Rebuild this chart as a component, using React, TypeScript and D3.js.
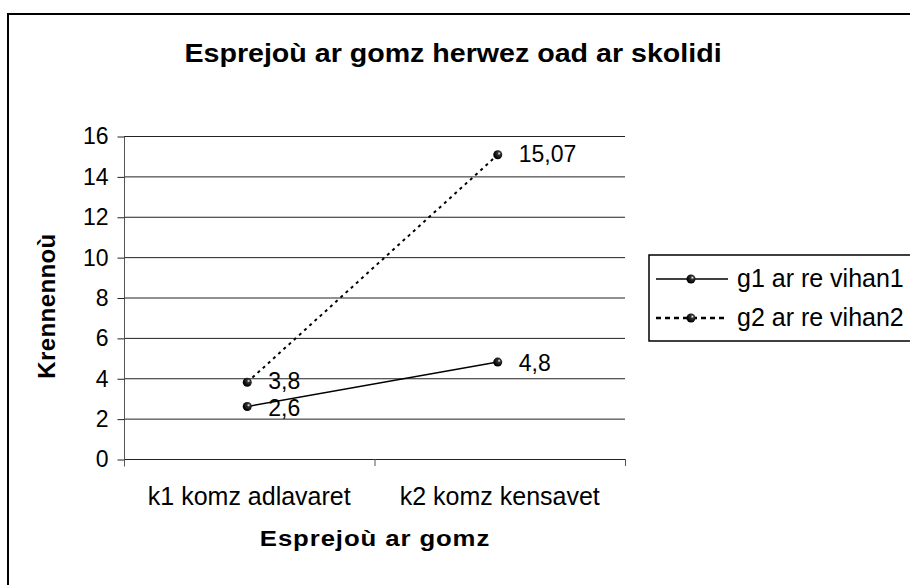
import { useEffect, useRef } from "react"
import * as d3 from "d3"

const categories = ["k1 komz adlavaret", "k2 komz kensavet"]
const seriesNames = ["g1 ar re vihan1", "g2 ar re vihan2"]
const g1Values = [2.6, 4.8]
const g2Values = [3.8, 15.07]
const g1Labels = ["2,6", "4,8"]
const g2Labels = ["3,8", "15,07"]
const yTicks = [0, 2, 4, 6, 8, 10, 12, 14, 16]

export default function App() {
  const ref = useRef<SVGSVGElement>(null)

  useEffect(() => {
    const svg = d3.select(ref.current)
    svg.selectAll("*").remove()

    const left = 124
    const right = 625
    const top = 136
    const bottom = 459
    const font = "'Liberation Sans', Arial, sans-serif"

    const x = d3.scaleBand().domain(categories).range([left, right])
    const y = d3.scaleLinear().domain([0, 16]).range([bottom, top])

    const defs = svg.append("defs")
    const grad = defs
      .append("radialGradient")
      .attr("id", "ball")
      .attr("cx", "65%")
      .attr("cy", "35%")
      .attr("r", "60%")
    grad.append("stop").attr("offset", "0%").attr("stop-color", "#ffffff")
    grad.append("stop").attr("offset", "30%").attr("stop-color", "#333")
    grad.append("stop").attr("offset", "100%").attr("stop-color", "#000")

    // outer frame
    svg
      .append("rect")
      .attr("x", 8)
      .attr("y", 14)
      .attr("width", 940)
      .attr("height", 620)
      .attr("fill", "#fff")
      .attr("stroke", "#000")
      .attr("stroke-width", 2)

    // title (slightly widened like the original rendering)
    svg
      .append("text")
      .attr("transform", "translate(453,62) scale(1.1,1)")
      .attr("text-anchor", "middle")
      .attr("font-family", font)
      .attr("font-weight", "bold")
      .attr("font-size", 26)
      .text("Esprejoù ar gomz herwez oad ar skolidi")

    // gridlines
    svg
      .append("g")
      .selectAll("line")
      .data(yTicks.filter((t) => t > 0))
      .join("line")
      .attr("x1", left)
      .attr("x2", right)
      .attr("y1", (d) => y(d) + 0.5)
      .attr("y2", (d) => y(d) + 0.5)
      .attr("stroke", "#222")
      .attr("stroke-width", 1)

    // y axis
    const yAxis = svg
      .append("g")
      .attr("transform", `translate(${left + 0.5},0.5)`)
      .call(d3.axisLeft(y).tickValues(yTicks).tickSize(7).tickPadding(9).tickFormat(d3.format("d")))
    yAxis.select(".domain").attr("stroke", "#555").attr("d", `M0,${top}V${bottom + 7}`)
    yAxis.selectAll(".tick line").attr("stroke", "#222")
    yAxis
      .selectAll(".tick text")
      .attr("font-family", font)
      .attr("font-size", 23)
      .attr("fill", "#000")

    // x axis
    svg
      .append("line")
      .attr("x1", left)
      .attr("x2", right)
      .attr("y1", bottom + 0.5)
      .attr("y2", bottom + 0.5)
      .attr("stroke", "#222")
    const bounds = [left, left + x.bandwidth(), right]
    svg
      .append("g")
      .selectAll("line")
      .data(bounds)
      .join("line")
      .attr("x1", (d) => d + 0.5)
      .attr("x2", (d) => d + 0.5)
      .attr("y1", bottom)
      .attr("y2", bottom + 7)
      .attr("stroke", "#555")
    svg
      .append("g")
      .selectAll("text")
      .data(categories)
      .join("text")
      .attr("x", (d) => (x(d) || 0) + x.bandwidth() / 2)
      .attr("y", 505)
      .attr("text-anchor", "middle")
      .attr("font-family", font)
      .attr("font-size", 25)
      .text((d) => d)

    // axis titles
    svg
      .append("text")
      .attr("transform", "translate(375,546) scale(1.12,1)")
      .attr("text-anchor", "middle")
      .attr("font-family", font)
      .attr("font-weight", "bold")
      .attr("font-size", 23)
      .attr("letter-spacing", 0.8)
      .text("Esprejoù ar gomz")
    svg
      .append("text")
      .attr("transform", "translate(55,306) rotate(-90)")
      .attr("text-anchor", "middle")
      .attr("font-family", font)
      .attr("font-weight", "bold")
      .attr("font-size", 24)
      .attr("letter-spacing", 0.4)
      .text("Krennennoù")

    const cx = (c: string) => (x(c) || 0) + x.bandwidth() / 2 - 2
    const series = [
      { values: g1Values, labels: g1Labels, dash: null, dy: 9 },
      { values: g2Values, labels: g2Labels, dash: "3,4", dy: 7 },
    ]

    series.forEach((s) => {
      const line = d3
        .line<number>()
        .x((_, i) => cx(categories[i]))
        .y((d) => y(d))
      svg
        .append("path")
        .attr("d", line(s.values))
        .attr("fill", "none")
        .attr("stroke", "#000")
        .attr("stroke-width", s.dash ? 2 : 1.5)
        .attr("stroke-dasharray", s.dash)
      svg
        .append("g")
        .selectAll("circle")
        .data(s.values)
        .join("circle")
        .attr("cx", (_, i) => cx(categories[i]))
        .attr("cy", (d) => y(d))
        .attr("r", 4.5)
        .attr("fill", "url(#ball)")
      svg
        .append("g")
        .selectAll("text")
        .data(s.values)
        .join("text")
        .attr("x", (_, i) => cx(categories[i]) + 21)
        .attr("y", (d) => y(d) + s.dy)
        .attr("font-family", font)
        .attr("font-size", 23)
        .text((_, i) => s.labels[i])
    })

    // legend
    svg
      .append("rect")
      .attr("x", 649)
      .attr("y", 255)
      .attr("width", 300)
      .attr("height", 86)
      .attr("fill", "#fff")
      .attr("stroke", "#000")
      .attr("stroke-width", 1.5)
    seriesNames.forEach((name, i) => {
      const ly = 279 + i * 39
      svg
        .append("line")
        .attr("x1", 656)
        .attr("x2", 728)
        .attr("y1", ly)
        .attr("y2", ly)
        .attr("stroke", "#000")
        .attr("stroke-width", i ? 2.5 : 1.5)
        .attr("stroke-dasharray", i ? "5,4" : null)
      svg
        .append("circle")
        .attr("cx", 691)
        .attr("cy", ly)
        .attr("r", 4.5)
        .attr("fill", "url(#ball)")
      svg
        .append("text")
        .attr("x", 737)
        .attr("y", ly + 8)
        .attr("font-family", font)
        .attr("font-size", 25)
        .text(name)
    })
  }, [])

  return (
    <svg
      ref={ref}
      width={910}
      height={585}
      style={{ position: "fixed", left: 0, top: 0, display: "block", background: "#fff" }}
    />
  )
}
